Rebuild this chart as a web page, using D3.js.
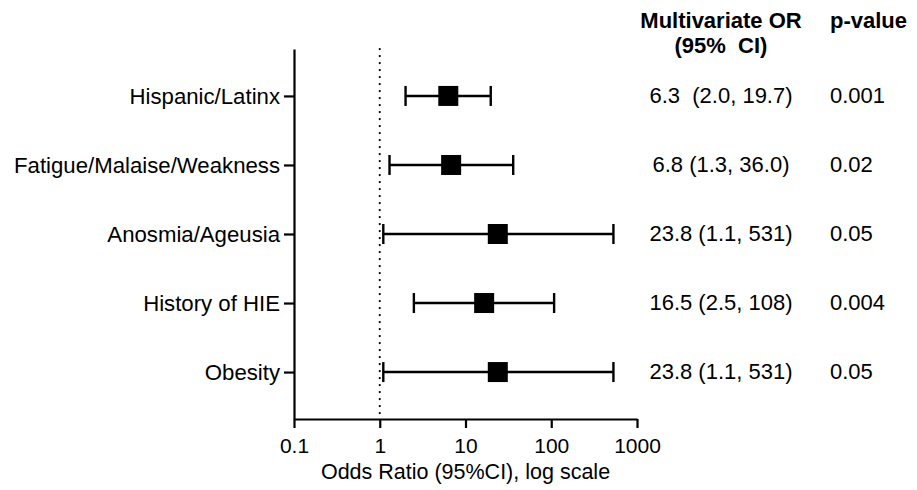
<!DOCTYPE html>
<html>
<head>
<meta charset="utf-8">
<script src="https://cdn.jsdelivr.net/npm/d3@7"></script>
<style>
  body { margin: 0; background: #fff; }
  text { font-family: "Liberation Sans", Arial, sans-serif; fill: #000; }
</style>
</head>
<body>
<div id="chart"></div>
<script>
// forest plot data
var factors = ["Hispanic/Latinx", "Fatigue/Malaise/Weakness", "Anosmia/Ageusia", "History of HIE", "Obesity"];
var oddsRatio = [6.3, 6.8, 23.8, 16.5, 23.8];
var ciLow = [2.0, 1.3, 1.1, 2.5, 1.1];
var ciHigh = [19.7, 36.0, 531, 108, 531];
var orText = ["6.3  (2.0, 19.7)", "6.8 (1.3, 36.0)", "23.8 (1.1, 531)", "16.5 (2.5, 108)", "23.8 (1.1, 531)"];
var pValues = ["0.001", "0.02", "0.05", "0.004", "0.05"];
var xTicks = [0.1, 1, 10, 100, 1000];

var svgWidth = 917;
var svgHeight = 490;

var svg = d3.select("#chart")
  .append("svg")
  .attr("width", svgWidth)
  .attr("height", svgHeight);

var x = d3.scaleLog()
  .domain([0.1, 1000])
  .range([294, 637]);

var y = d3.scalePoint()
  .domain(factors)
  .range([49, 419])
  .padding(0.68);

// x axis
var xAxis = svg.append("g")
  .attr("transform", "translate(0,419)")
  .call(d3.axisBottom(x).tickValues(xTicks).tickFormat(d3.format("~g")).tickSizeInner(9).tickSizeOuter(0).tickPadding(6));

// y axis
var yAxis = svg.append("g")
  .attr("transform", "translate(294,0)")
  .call(d3.axisLeft(y).tickSizeInner(10).tickSizeOuter(0).tickPadding(4));

svg.selectAll(".domain, .tick line")
  .attr("stroke", "#000")
  .attr("stroke-width", 2.2);

xAxis.selectAll("text").attr("font-size", 21).attr("dy", "0.9em");
yAxis.selectAll("text").attr("font-size", 22.2).attr("dy", "0.33em");

// axis title
svg.append("text")
  .attr("x", (x(0.1) + x(1000)) / 2)
  .attr("y", 479)
  .attr("text-anchor", "middle")
  .attr("font-size", 21.5)
  .text("Odds Ratio (95%CI), log scale");

// reference line at OR = 1
svg.append("line")
  .attr("x1", x(1)).attr("x2", x(1))
  .attr("y1", 49).attr("y2", 419)
  .attr("stroke", "#000")
  .attr("stroke-width", 2.2)
  .attr("stroke-linecap", "round")
  .attr("stroke-dasharray", "0.1,6.9");

// whiskers and caps
var rows = svg.append("g").selectAll("g")
  .data(factors)
  .enter()
  .append("g");

rows.append("line")
  .attr("x1", (d, i) => x(ciLow[i]))
  .attr("x2", (d, i) => x(ciHigh[i]))
  .attr("y1", d => y(d)).attr("y2", d => y(d))
  .attr("stroke", "#000")
  .attr("stroke-width", 2.4);

rows.append("line")
  .attr("x1", (d, i) => x(ciLow[i]))
  .attr("x2", (d, i) => x(ciLow[i]))
  .attr("y1", d => y(d) - 10).attr("y2", d => y(d) + 10)
  .attr("stroke", "#000")
  .attr("stroke-width", 2.4);

rows.append("line")
  .attr("x1", (d, i) => x(ciHigh[i]))
  .attr("x2", (d, i) => x(ciHigh[i]))
  .attr("y1", d => y(d) - 10).attr("y2", d => y(d) + 10)
  .attr("stroke", "#000")
  .attr("stroke-width", 2.4);

rows.append("rect")
  .attr("x", (d, i) => x(oddsRatio[i]) - 10)
  .attr("y", d => y(d) - 10)
  .attr("width", 20)
  .attr("height", 20)
  .attr("fill", "#000");

// table columns
svg.append("text")
  .attr("x", 721).attr("y", 28)
  .attr("text-anchor", "middle")
  .attr("font-size", 22).attr("font-weight", "bold")
  .text("Multivariate OR");

svg.append("text")
  .attr("x", 721).attr("y", 53)
  .attr("text-anchor", "middle")
  .attr("font-size", 22).attr("font-weight", "bold")
  .style("white-space", "pre")
  .text("(95%  CI)");

svg.append("text")
  .attr("x", 830).attr("y", 28)
  .attr("font-size", 22).attr("font-weight", "bold")
  .text("p-value");

rows.append("text")
  .attr("x", 721)
  .attr("y", d => y(d) + 7)
  .attr("text-anchor", "middle")
  .attr("font-size", 22)
  .style("white-space", "pre")
  .text((d, i) => orText[i]);

rows.append("text")
  .attr("x", 830)
  .attr("y", d => y(d) + 7)
  .attr("font-size", 22)
  .text((d, i) => pValues[i]);
</script>
</body>
</html>
